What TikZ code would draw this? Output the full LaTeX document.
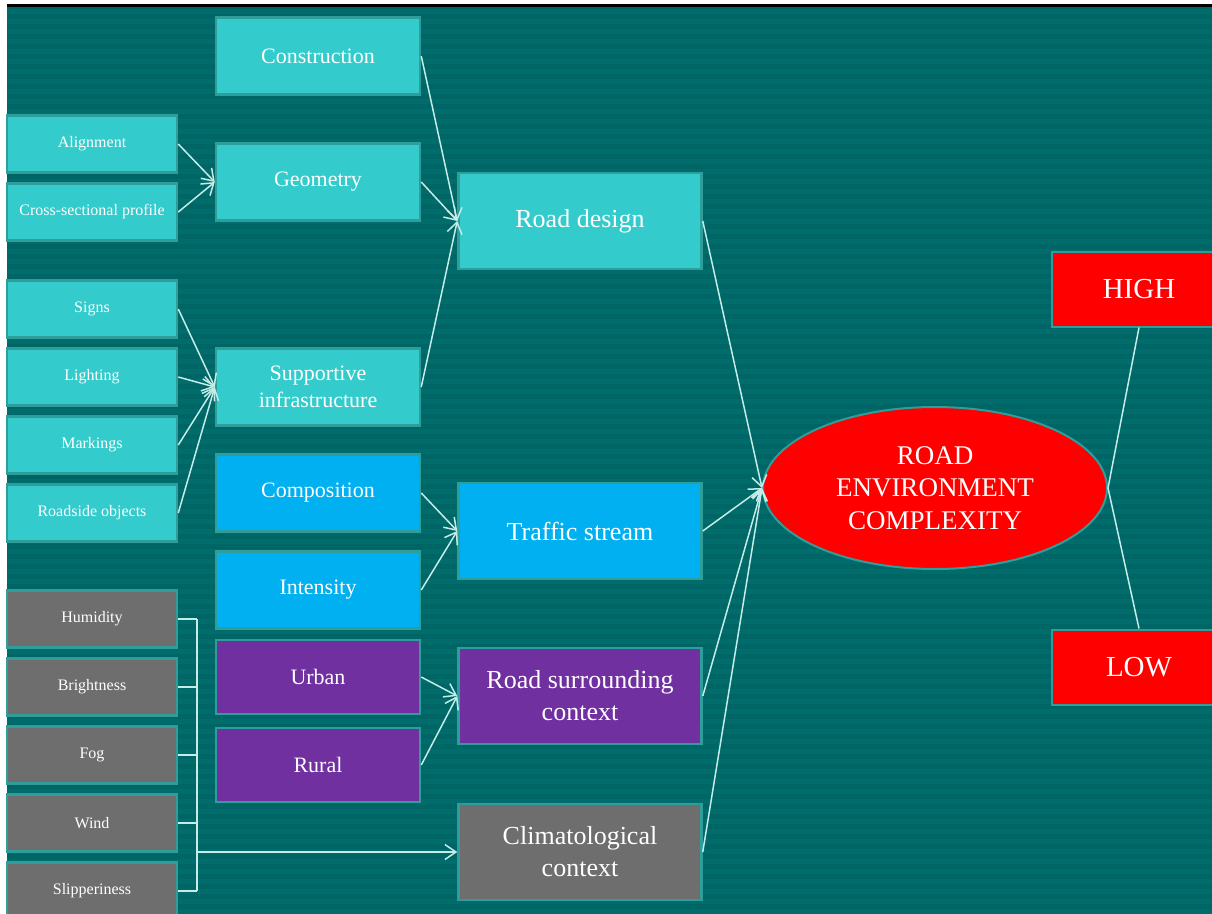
\documentclass[tikz,border=0pt]{standalone}
\usepackage{fontspec}
\setmainfont{Liberation Serif}
\usetikzlibrary{arrows.meta, positioning, shapes.geometric}
\definecolor{bgteal}{HTML}{006565}
\definecolor{bgstripe}{HTML}{006C6C}
\definecolor{tealbox}{HTML}{33CBCB}
\definecolor{bluebox}{HTML}{00B0F0}
\definecolor{purplebox}{HTML}{7030A0}
\definecolor{greybox}{HTML}{6E6E6E}
\definecolor{edgeteal}{HTML}{2F9E9B}
\definecolor{linkcol}{HTML}{C4ECE8}
\tikzset{
  item/.style={
    rectangle, minimum width=170pt, minimum height=57pt, inner sep=2pt,
    text centered, text=white, draw=edgeteal, line width=2.5pt,
    font=\fontsize{16}{18}\selectfont
  },
  factor/.style={
    rectangle, minimum width=204pt, minimum height=77pt, inner sep=2pt,
    align=center, text=white, draw=edgeteal, line width=2.5pt,
    font=\fontsize{22}{27}\selectfont
  },
  aspect/.style={
    rectangle, minimum width=243pt, minimum height=96pt, inner sep=2pt,
    align=center, text=white, draw=edgeteal, line width=2.5pt,
    font=\fontsize{26}{32}\selectfont
  },
  level/.style={
    rectangle, minimum width=174pt, minimum height=75pt,
    text centered, text=white, fill=red, draw=edgeteal, line width=2pt,
    font=\fontsize{29}{32}\selectfont
  },
  arrow/.style={
    -{Straight Barb[length=11pt,width=15pt]}, line width=1.5pt, color=linkcol
  },
  link/.style={
    line width=1.5pt, color=linkcol
  }
}

\begin{document}
\begin{tikzpicture}[x=1pt, y=-1pt]

% Fond
\useasboundingbox (0,0) rectangle (1212,913);
\fill[white] (0,0) rectangle (1212,913);
\fill[bgteal] (7,7) rectangle (1212,913);
\foreach \s in {0,...,90} {
  \fill[bgstripe] (7,9+10*\s) rectangle (1212,14+10*\s);
}
\fill[black] (7,4) rectangle (1212,7);

% Road design
\node (construction) [factor, fill=tealbox] at (318,56) {Construction};
\node (geometry) [factor, fill=tealbox] at (318,182) {Geometry};
\node (supportive) [factor, fill=tealbox] at (318,387) {Supportive\\infrastructure};
\node (road_design) [aspect, fill=tealbox] at (580,221) {Road design};

\node (alignment) [item, fill=tealbox] at (92,144) {Alignment};
\node (cross_section) [item, fill=tealbox, below=8.5pt of alignment] {Cross-sectional profile};

\node (signs) [item, fill=tealbox] at (92,309) {Signs};
\node (lighting) [item, fill=tealbox, below=8.5pt of signs] {Lighting};
\node (markings) [item, fill=tealbox, below=8.5pt of lighting] {Markings};
\node (roadside) [item, fill=tealbox, below=8.5pt of markings] {Roadside objects};

% Traffic stream
\node (composition) [factor, fill=bluebox] at (318,493) {Composition};
\node (intensity) [factor, fill=bluebox] at (318,590) {Intensity};
\node (traffic) [aspect, fill=bluebox] at (580,531) {Traffic stream};

% Road surrounding context
\node (urban) [factor, fill=purplebox, minimum height=74pt] at (318,677) {Urban};
\node (rural) [factor, fill=purplebox, minimum height=74pt] at (318,765) {Rural};
\node (surrounding) [aspect, fill=purplebox] at (580,696) {Road surrounding\\context};

% Climatological context
\node (humidity) [item, fill=greybox] at (92,619) {Humidity};
\node (brightness) [item, fill=greybox, below=8.5pt of humidity] {Brightness};
\node (fog) [item, fill=greybox, below=8.5pt of brightness] {Fog};
\node (wind) [item, fill=greybox, below=8.5pt of fog] {Wind};
\node (slipperiness) [item, fill=greybox, below=8.5pt of wind] {Slipperiness};
\node (climate) [aspect, fill=greybox] at (580,852) {Climatological\\context};

% Complexite
\node (complexity) [ellipse, fill=red, draw=edgeteal, line width=2pt,
  minimum width=344pt, minimum height=162pt, align=center, text=white,
  font=\fontsize{27}{32.5}\selectfont] at (935,488) {ROAD\\ENVIRONMENT\\COMPLEXITY};
\node (high) [level] at (1139,289) {HIGH};
\node (low) [level] at (1139,667) {LOW};

% Fleches vers les facteurs
\draw [arrow] (alignment.east) -- (geometry.west);
\draw [arrow] (cross_section.east) -- (geometry.west);
\foreach \n in {signs, lighting, markings, roadside} {
  \draw [arrow] (\n.east) -- (supportive.west);
}

% Fleches vers les aspects
\foreach \n in {construction, geometry, supportive} {
  \draw [arrow] (\n.east) -- (road_design.west);
}
\draw [arrow] (composition.east) -- (traffic.west);
\draw [arrow] (intensity.east) -- (traffic.west);
\draw [arrow] (urban.east) -- (surrounding.west);
\draw [arrow] (rural.east) -- (surrounding.west);

% Accolade climat
\coordinate (bus_top) at (197,619);
\coordinate (bus_bottom) at (197,891);
\coordinate (bus_out) at (197,852);
\foreach \n in {humidity, brightness, fog, wind, slipperiness} {
  \draw [link] (\n.east) -- (\n.east -| bus_top);
}
\draw [link] (bus_top) -- (bus_bottom);
\draw [arrow] (bus_out) -- (climate.west);

% Fleches vers la complexite
\foreach \n in {road_design, traffic, surrounding, climate} {
  \draw [arrow] (\n.east) -- (complexity.west);
}
\draw [link] (high.south) -- (complexity.east);
\draw [link] (low.north) -- (complexity.east);

\end{tikzpicture}
\end{document}
